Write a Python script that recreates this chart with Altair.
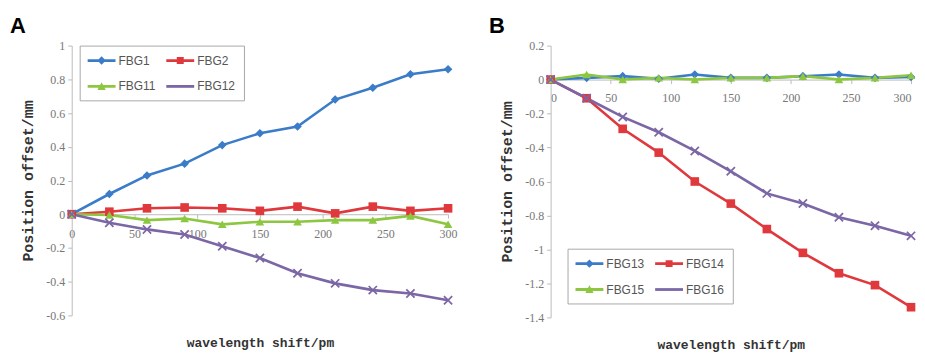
import math
import altair as alt
import pandas as pd

# ---------------- data ----------------
shift_pm = [0, 30, 60, 90, 120, 150, 180, 210, 240, 270, 300]

series_a = ["FBG1", "FBG2", "FBG11", "FBG12"]
fbg1 = [0, 0.12, 0.23, 0.30, 0.41, 0.48, 0.52, 0.68, 0.75, 0.83, 0.86]
fbg2 = [0, 0.015, 0.035, 0.04, 0.035, 0.02, 0.045, 0.005, 0.045, 0.02, 0.035]
fbg11 = [0, -0.005, -0.035, -0.025, -0.06, -0.045, -0.045, -0.035, -0.035, -0.01, -0.06]
fbg12 = [0, -0.05, -0.09, -0.12, -0.19, -0.26, -0.35, -0.41, -0.45, -0.47, -0.51]

series_b = ["FBG13", "FBG14", "FBG15", "FBG16"]
fbg13 = [0, 0.01, 0.02, 0.005, 0.03, 0.01, 0.01, 0.02, 0.03, 0.01, 0.015]
fbg14 = [0, -0.11, -0.29, -0.43, -0.60, -0.73, -0.88, -1.02, -1.14, -1.21, -1.34]
fbg15 = [0, 0.03, 0.0, 0.01, 0.0, 0.01, 0.01, 0.02, 0.0, 0.01, 0.025]
fbg16 = [0, -0.11, -0.22, -0.31, -0.42, -0.54, -0.67, -0.73, -0.81, -0.86, -0.92]

x_ticks = [0, 50, 100, 150, 200, 250, 300]
y_ticks_a = [1, 0.8, 0.6, 0.4, 0.2, 0, -0.2, -0.4, -0.6]
y_ticks_b = [0.2, 0, -0.2, -0.4, -0.6, -0.8, -1, -1.2, -1.4]

colors = ["#3b7cc8", "#e0393d", "#8dc640", "#7b66a6"]

# ---------------- styles ----------------
LABEL_FONT = "Liberation Serif"
MONO = "Liberation Mono"


def x_path():
    L, w = 1.35, 0.2
    pts = [(-L, -w), (-w, -w), (-w, -L), (w, -L), (w, -w), (L, -w),
           (L, w), (w, w), (w, L), (-w, L), (-w, w), (-L, w)]
    r = 1 / math.sqrt(2)
    rot = [((px - py) * r, (px + py) * r) for px, py in pts]
    return "M" + "L".join(f"{a:.3f},{b:.3f}" for a, b in rot) + "Z"


point_shapes = ["diamond", "square", "triangle-up", x_path()]

leg_line = "M-1,-0.2H3V0.2H-1Z"
legend_shapes = [
    leg_line + "M1,-0.6L1.6,0L1,0.6L0.4,0Z",
    leg_line + "M0.5,-0.5H1.5V0.5H0.5Z",
    leg_line + "M1,-0.6L1.6,0.5H0.4Z",
    leg_line,
]


def long_df(names, values):
    rows = []
    for n, vals in zip(names, values):
        for i, (x, y) in enumerate(zip(shift_pm, vals)):
            rows.append({"series": n, "x": x, "y": y, "order": i})
    return pd.DataFrame(rows)


def panel(df, names, ydom, yticks, width, height, title, dx, lx, ly, lpad, flush):
    ymin, ymax = ydom
    zero_off = height * (0 - ymin) / (ymax - ymin)
    xscale = alt.Scale(domain=[0, 300], nice=False)
    yscale = alt.Scale(domain=[ymin, ymax], nice=False)
    cscale = alt.Scale(domain=names, range=colors)

    xenc = alt.X(
        "x:Q", scale=xscale,
        axis=alt.Axis(
            values=x_ticks, offset=-zero_off, grid=False,
            title="wavelength shift/pm", titleFont=MONO, titleFontSize=13,
            titleFontWeight="bold", titleColor="#333",
            titleBaseline="middle", titleY=zero_off + 27,
            labelFont=LABEL_FONT, labelFontSize=12, labelColor="#777",
            labelPadding=lpad, tickSize=4, tickColor="#bbb", domainColor="#bbb",
            labelOverlap=False, labelFlush=flush,
        ),
    )
    yenc = alt.Y(
        "y:Q", scale=yscale,
        axis=alt.Axis(
            values=yticks, grid=False, labelExpr="'' + datum.value",
            title="Position offset/mm", titleFont=MONO, titleFontSize=15,
            titleFontWeight="bold", titleColor="#333", titlePadding=10,
            labelFont=LABEL_FONT, labelFontSize=12, labelColor="#777",
            labelPadding=3, tickSize=4, tickColor="#bbb", domainColor="#bbb",
            labelOverlap=False,
        ),
    )
    base = alt.Chart(df)
    lines = base.mark_line(strokeWidth=2.6).encode(
        x=xenc, y=yenc,
        color=alt.Color("series:N", scale=cscale, legend=None),
        order="order:Q", detail="series:N",
    )
    pts = base.mark_point(filled=True, size=75, opacity=1).encode(
        x=xenc, y=yenc,
        color=alt.Color("series:N", scale=cscale, legend=None),
        shape=alt.Shape("series:N", scale=alt.Scale(domain=names, range=point_shapes), legend=None),
    )
    legend = alt.Legend(
        orient="none", legendX=lx, legendY=ly, columns=2, direction="horizontal",
        title=None, strokeColor="#a8a8a8", padding=8,
        labelFont="Liberation Sans", labelFontSize=12, labelColor="#555",
        symbolSize=196, labelOffset=17, rowPadding=13,
        columnPadding=10, symbolStrokeWidth=0,
    )
    leg = base.transform_filter("false").mark_point(filled=True, opacity=1).encode(
        x=xenc, y=yenc,
        color=alt.Color("series:N", scale=cscale, legend=legend),
        shape=alt.Shape("series:N", scale=alt.Scale(domain=names, range=legend_shapes),
                        legend=legend),
    )
    return (
        alt.layer(lines, pts, leg)
        .resolve_scale(shape="independent", color="independent")
        .resolve_legend(shape="independent", color="independent")
        .properties(
            width=width, height=height,
            title=alt.TitleParams(
                text=title, anchor="start", frame="group", dx=dx, fontSize=22,
                font="Liberation Sans", fontWeight="bold", color="black", offset=2,
            ),
        )
    )


df_a = long_df(series_a, [fbg1, fbg2, fbg11, fbg12])
df_b = long_df(series_b, [fbg13, fbg14, fbg15, fbg16])

pa = panel(df_a, series_a, (-0.6, 1.0), y_ticks_a, 378, 271, "A", -62, 8, 0, 10, False)
pb = panel(df_b, series_b, (-1.4, 0.2), y_ticks_b, 362, 273, "B", -62, 17, 204, 9, True)

chart = (
    alt.hconcat(pa, pb, spacing=32)
    .resolve_scale(color="independent", shape="independent")
    .properties(padding={"left": 2, "top": 6, "right": 0, "bottom": 0})
    .configure_view(stroke=None)
)

chart.save("out.html", embed_options={"renderer": "svg", "actions": False})
